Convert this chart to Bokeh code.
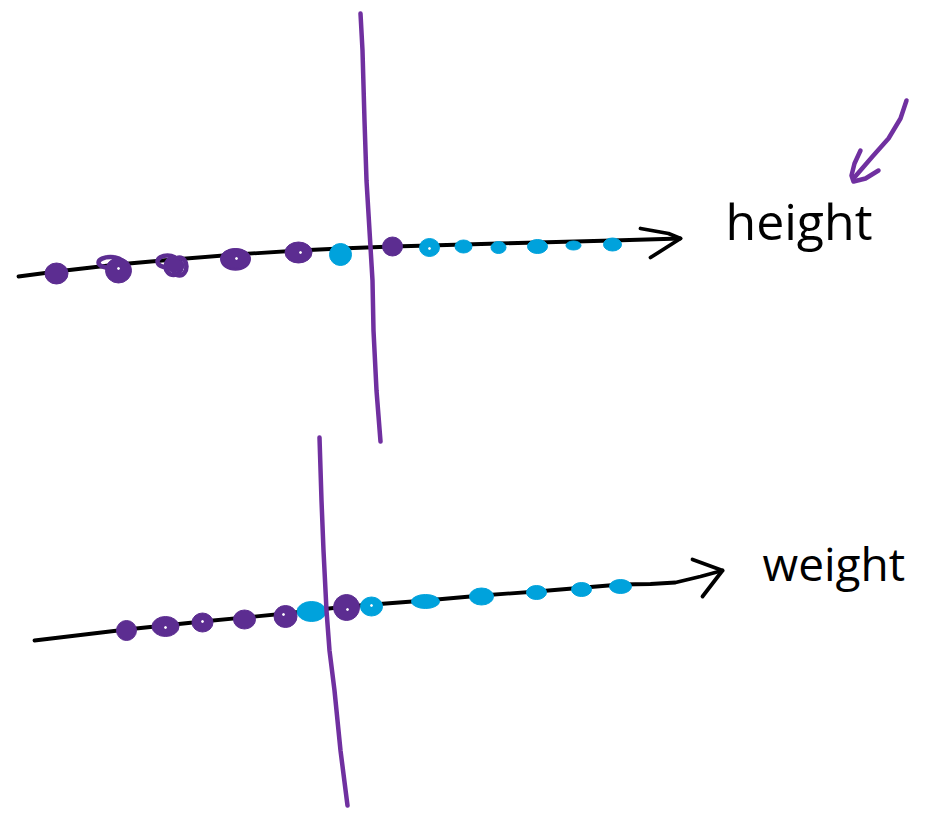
from bokeh.plotting import figure
from bokeh.embed import file_html
from bokeh.resources import INLINE
from bokeh.core.properties import value
from bokeh.models import Range1d

PURPLE_LINE = "#7030a0"
PURPLE_DOT = "#5c2d91"
BLUE_DOT = "#00a2dc"

# top panel: height
height_axis_x = [18, 56, 117, 173, 235, 298, 340, 392, 429, 498, 537, 612, 680]
height_axis_y = [276, 271, 264, 259, 254, 250, 248, 246, 245, 243, 242, 240, 238]
height_head_x = [640, 668, 680, 650]
height_head_y = [228, 233, 238, 257]
height_divider_x = [360, 362, 364, 366, 369, 372, 373, 376, 380]
height_divider_y = [13, 50, 120, 180, 230, 280, 330, 390, 441]
height_purple_x = [56, 118, 174, 235, 298, 392]
height_purple_y = [273, 270, 265, 258, 252, 246]
height_purple_w = [23, 26, 20, 30, 27, 20]
height_purple_h = [21, 25, 13, 20, 21, 19]
height_blue_x = [340, 429, 463, 498, 537, 573, 612]
height_blue_y = [254, 247, 246, 247, 246, 245, 244]
height_blue_w = [22, 20, 17, 15, 20, 15, 18]
height_blue_h = [22, 18, 13, 12, 14, 9, 13]
height_loop_x = [110, 167, 173, 179, 235]
height_loop_y = [262, 261, 266, 266, 259]
height_loop_w = [24, 20, 16, 14, 26]
height_loop_h = [11, 12, 17, 18, 18]

# bottom panel: weight
weight_axis_x = [34, 126, 202, 285, 346, 425, 481, 536, 620, 650, 675, 700, 722]
weight_axis_y = [640, 629, 621, 613, 606, 600, 595, 591, 584, 583.5, 582, 576, 570]
weight_head_x = [692, 722, 702]
weight_head_y = [559, 570, 596]
weight_divider_x = [319, 321, 323, 326, 329, 334, 340, 347]
weight_divider_y = [437, 500, 550, 610, 650, 690, 750, 805]
weight_purple_x = [126, 165, 202, 244, 285, 346]
weight_purple_y = [630, 626, 622, 619, 616, 607]
weight_purple_w = [20, 27, 21, 22, 23, 26]
weight_purple_h = [20, 20, 19, 19, 22, 26]
weight_blue_x = [311, 371, 425, 481, 536, 581, 620]
weight_blue_y = [611, 606, 601, 596, 592, 589, 586]
weight_blue_w = [29, 22, 28, 24, 20, 20, 22]
weight_blue_h = [20, 19, 14, 17, 14, 14, 14]

# white flecks left inside the scribbled dots
fleck_x = [118, 236, 300, 165, 202, 283, 347, 371, 429]
fleck_y = [268, 258, 252, 627, 621, 614, 609, 605, 248]

# purple pointer arrow
pointer_x = [906, 900, 888, 872, 853]
pointer_y = [100, 118, 138, 156, 178]
pointer_head_x = [860, 854, 851, 853, 865, 878]
pointer_head_y = [150, 163, 175, 181, 178, 170]

labels = ["height", "weight"]
label_x = [725, 762]
label_y = [220, 562]
label_sizes = ["50px", "46px"]

p = figure(width=922, height=811, output_backend="svg", toolbar_location=None,
           x_range=Range1d(0, 922), y_range=Range1d(811, 0),
           min_border=0, min_border_left=0, min_border_right=0,
           min_border_top=0, min_border_bottom=0, outline_line_color=None,
           background_fill_color="white", border_fill_color="white")
p.axis.visible = False
p.grid.visible = False

for xs, ys in [(height_axis_x, height_axis_y), (height_head_x, height_head_y),
               (weight_axis_x, weight_axis_y), (weight_head_x, weight_head_y)]:
    p.line(xs, ys, line_color="black", line_width=3.8, line_cap="round", line_join="round")

p.ellipse(height_loop_x, height_loop_y, width=height_loop_w, height=height_loop_h,
          fill_color=None, line_color=PURPLE_DOT, line_width=4.5)
p.ellipse(height_purple_x, height_purple_y, width=height_purple_w, height=height_purple_h,
          color=PURPLE_DOT)
p.ellipse(height_blue_x, height_blue_y, width=height_blue_w, height=height_blue_h, color=BLUE_DOT)
p.ellipse(weight_blue_x, weight_blue_y, width=weight_blue_w, height=weight_blue_h, color=BLUE_DOT)
p.ellipse(weight_purple_x, weight_purple_y, width=weight_purple_w, height=weight_purple_h,
          color=PURPLE_DOT)
p.scatter(fleck_x, fleck_y, size=2, color="white")

for xs, ys, w in [(height_divider_x, height_divider_y, 4.5), (weight_divider_x, weight_divider_y, 4.5),
                  (pointer_x, pointer_y, 4.5), (pointer_head_x, pointer_head_y, 4.5)]:
    p.line(xs, ys, line_color=PURPLE_LINE, line_width=w, line_cap="round", line_join="round")

for lab, x, y, size in zip(labels, label_x, label_y, label_sizes):
    p.text([x], [y], text=[lab], text_color="black", text_font=value("Open Sans"),
           text_font_size=size, text_baseline="alphabetic", text_align="left")

open("out.html", "w").write(file_html(p, INLINE))
